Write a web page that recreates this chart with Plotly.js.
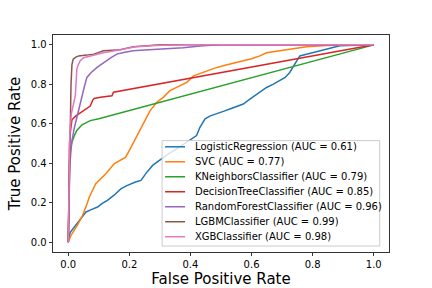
<!DOCTYPE html>
<html>
<head>
<meta charset="utf-8">
<script src="https://cdn.plot.ly/plotly-3.0.1.min.js"></script>
<style>html,body{margin:0;padding:0;background:#fff;}#chart{width:432px;height:288px;}</style>
</head>
<body>
<div id="chart"></div>
<script>
// ---- data ----
const modelNames = ["LogisticRegression", "SVC", "KNeighborsClassifier", "DecisionTreeClassifier",
                    "RandomForestClassifier", "LGBMClassifier", "XGBClassifier"];
const aucValues = [0.61, 0.77, 0.79, 0.85, 0.96, 0.99, 0.98];
const seriesColors = ["#1f77b4", "#ff7f0e", "#2ca02c", "#d62728", "#9467bd", "#8c564b", "#e377c2"];

const fprLR = [0,0.002,0.0065,0.02,0.036,0.058,0.075,0.096,0.11,0.128,0.15,0.172,0.19,0.205,0.22,0.238,0.255,0.276,0.29,0.303,0.33,0.36,0.388,0.405,0.42,0.431,0.448,0.465,0.486,0.51,0.529,0.55,0.573,0.59,0.617,0.649,0.67,0.693,0.71,0.725,0.742,0.758,0.78,0.802,0.825,0.845,0.87,0.889,0.94,1];
const tprLR = [0,0.025,0.05,0.077,0.111,0.153,0.165,0.178,0.195,0.212,0.238,0.27,0.285,0.296,0.305,0.313,0.35,0.389,0.405,0.423,0.45,0.478,0.507,0.525,0.54,0.582,0.625,0.64,0.65,0.664,0.675,0.686,0.7,0.72,0.751,0.784,0.8,0.818,0.835,0.86,0.902,0.944,0.952,0.96,0.968,0.977,0.985,0.995,0.998,1];

const fprSVC = [0,0.003,0.009,0.03,0.047,0.058,0.069,0.09,0.105,0.123,0.15,0.172,0.188,0.2,0.215,0.23,0.25,0.268,0.29,0.311,0.333,0.355,0.388,0.41,0.43,0.453,0.48,0.507,0.54,0.573,0.6,0.627,0.649,0.68,0.715,0.78,0.845,1];
const tprSVC = [0,0.012,0.035,0.086,0.136,0.18,0.229,0.296,0.32,0.347,0.397,0.418,0.431,0.465,0.51,0.56,0.615,0.667,0.709,0.734,0.768,0.784,0.81,0.843,0.855,0.869,0.882,0.894,0.905,0.919,0.93,0.944,0.96,0.968,0.977,0.99,0.997,1];

const fprKNN = [0,0.002,0.004,0.007,0.012,0.02,0.028,0.045,0.072,0.1,1];
const tprKNN = [0,0.25,0.4,0.47,0.507,0.54,0.566,0.595,0.616,0.625,1];

const fprDT = [0,0.002,0.004,0.007,0.012,0.025,0.05,0.065,0.072,0.08,0.085,0.105,0.143,0.148,1];
const tprDT = [0,0.3,0.5,0.56,0.62,0.64,0.665,0.68,0.69,0.72,0.728,0.734,0.742,0.76,1];

const fprRF = [0,0.002,0.005,0.008,0.012,0.02,0.028,0.036,0.045,0.053,0.061,0.075,0.094,0.11,0.126,0.14,0.159,0.185,0.213,0.25,0.30,0.376,0.44,0.5,1];
const tprRF = [0,0.2,0.38,0.45,0.515,0.58,0.633,0.69,0.734,0.79,0.835,0.86,0.886,0.905,0.92,0.935,0.953,0.963,0.97,0.974,0.978,0.986,0.995,1,1];

const fprLGBM = [0,0.003,0.006,0.009,0.012,0.016,0.025,0.034,0.06,0.083,0.1,0.115,0.17,0.213,0.26,0.3,1];
const tprLGBM = [0,0.3,0.6,0.8,0.9,0.928,0.938,0.944,0.948,0.953,0.962,0.97,0.975,0.99,0.995,1,1];

const fprXGB = [0,0.002,0.005,0.01,0.016,0.023,0.026,0.028,0.033,0.039,0.05,0.072,0.09,0.115,0.17,0.22,0.3,0.4,1];
const tprXGB = [0,0.3,0.55,0.65,0.7,0.742,0.82,0.877,0.9,0.92,0.935,0.944,0.952,0.96,0.975,0.99,0.998,1,1];

const xTicks = [0, 0.2, 0.4, 0.6, 0.8, 1.0];
const xTickText = ["0.0", "0.2", "0.4", "0.6", "0.8", "1.0"];
const yTicks = [0, 0.2, 0.4, 0.6, 0.8, 1.0];
const yTickText = ["0.0", "0.2", "0.4", "0.6", "0.8", "1.0"];

const fprs = [fprLR, fprSVC, fprKNN, fprDT, fprRF, fprLGBM, fprXGB];
const tprs = [tprLR, tprSVC, tprKNN, tprDT, tprRF, tprLGBM, tprXGB];

// ---- figure ----
const W = 432, H = 288;
const L = 52.7, R = 389.3, T = 34.8, B = 252;
const FONT = "DejaVu Sans, Verdana, sans-serif";

const traces = modelNames.map((n, i) => ({
  type: "scatter", mode: "lines",
  x: fprs[i], y: tprs[i],
  name: n + " (AUC = " + aucValues[i].toFixed(2) + ")",
  line: {color: seriesColors[i], width: 1.5},
  showlegend: false, hoverinfo: "skip"
}));

// legend drawn in paper coordinates (matplotlib-style compact legend)
const px2x = p => (p - L) / (R - L);
const py2y = p => (B - p) / (B - T);
const shapes = [{
  type: "rect", xref: "paper", yref: "paper", layer: "above",
  x0: px2x(162), x1: px2x(380), y0: py2y(246), y1: py2y(140.5),
  line: {color: "#cccccc", width: 1}, fillcolor: "rgba(255,255,255,0.8)"
}];
const annotations = [];
modelNames.forEach((n, i) => {
  const cy = 146.7 + 15 * i;
  shapes.push({
    type: "line", xref: "paper", yref: "paper", layer: "above",
    x0: px2x(165), x1: px2x(185), y0: py2y(cy), y1: py2y(cy),
    line: {color: seriesColors[i], width: 1.5}
  });
  annotations.push({
    xref: "paper", yref: "paper", x: px2x(193), y: py2y(cy),
    xanchor: "left", yanchor: "middle", showarrow: false,
    text: n + " (AUC = " + aucValues[i].toFixed(2) + ")",
    font: {family: FONT, size: 10, color: "#000000"}
  });
});

const layout = {
  width: W, height: H,
  margin: {l: L, r: W - R, t: T, b: H - B, pad: 0},
  paper_bgcolor: "#ffffff", plot_bgcolor: "#ffffff",
  font: {family: FONT, size: 10, color: "#000000"},
  showlegend: false,
  xaxis: {
    range: [-0.05, 1.05], tickvals: xTicks, ticktext: xTickText,
    ticks: "outside", ticklen: 3.5, tickwidth: 0.8, tickcolor: "#000",
    showline: true, mirror: true, linecolor: "#000", linewidth: 0.8,
    showgrid: false, zeroline: false,
    tickfont: {family: FONT, size: 10, color: "#000"},
    title: {text: "False Positive Rate", font: {family: FONT, size: 15, color: "#000"}, standoff: 4}
  },
  yaxis: {
    range: [-0.05, 1.05], tickvals: yTicks, ticktext: yTickText,
    ticks: "outside", ticklen: 3.5, tickwidth: 0.8, tickcolor: "#000",
    showline: true, mirror: true, linecolor: "#000", linewidth: 0.8,
    showgrid: false, zeroline: false,
    tickfont: {family: FONT, size: 10, color: "#000"},
    title: {text: "True Positive Rate", font: {family: FONT, size: 15, color: "#000"}, standoff: 6}
  },
  shapes: shapes,
  annotations: annotations
};

Plotly.newPlot("chart", traces, layout, {staticPlot: true, displayModeBar: false});
</script>
</body>
</html>
